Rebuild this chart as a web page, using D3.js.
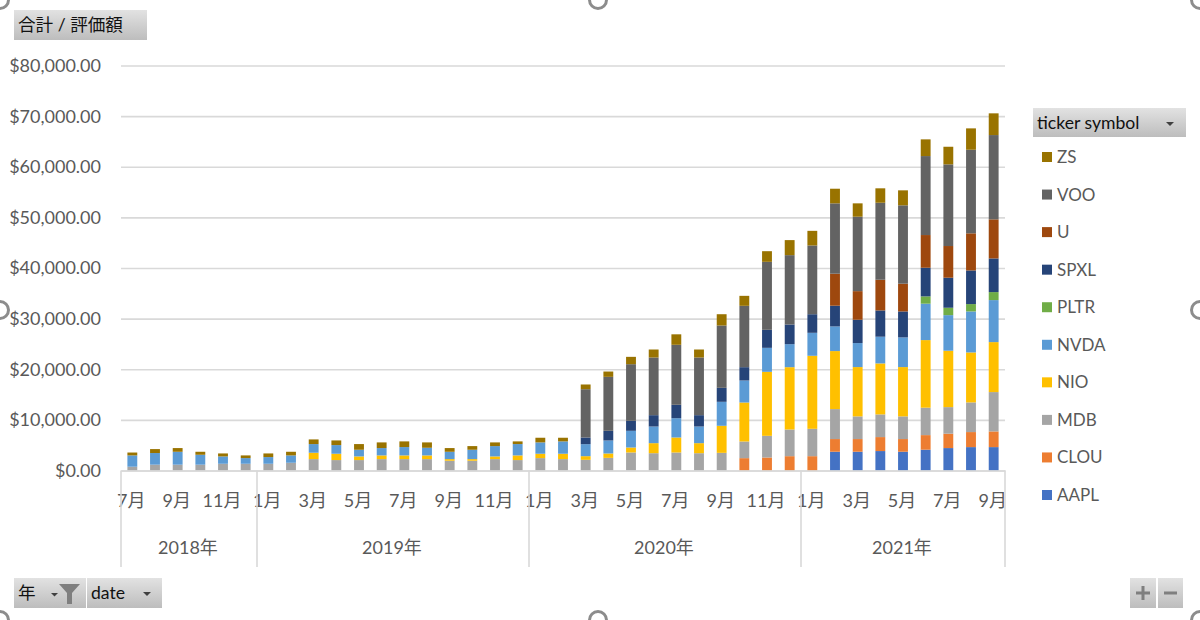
<!DOCTYPE html>
<html>
<head>
<meta charset="utf-8">
<script src="https://cdnjs.cloudflare.com/ajax/libs/d3/7.8.5/d3.min.js"></script>
<style>
  html, body { margin: 0; padding: 0; background: #fff; }
  svg { display: block; }
  text { font-family: Lato, "Noto Sans CJK JP", sans-serif; }
  .axis text { fill: #595959; }
  .btn text { fill: #111; }
</style>
</head>
<body>
<svg id="chart" width="1200" height="620"></svg>
<script>
const months = [
  "2018-07","2018-08","2018-09","2018-10","2018-11","2018-12",
  "2019-01","2019-02","2019-03","2019-04","2019-05","2019-06","2019-07","2019-08","2019-09","2019-10","2019-11","2019-12",
  "2020-01","2020-02","2020-03","2020-04","2020-05","2020-06","2020-07","2020-08","2020-09","2020-10","2020-11","2020-12",
  "2021-01","2021-02","2021-03","2021-04","2021-05","2021-06","2021-07","2021-08","2021-09"
];
const years = ["2018", "2019", "2020", "2021"];
const yTicks = [0, 10000, 20000, 30000, 40000, 50000, 60000, 70000, 80000];
const tickers = ["AAPL", "CLOU", "MDB", "NIO", "NVDA", "PLTR", "SPXL", "U", "VOO", "ZS"];
const colors = ["#4472C4", "#ED7D31", "#A5A5A5", "#FFC000", "#5B9BD5", "#70AD47", "#264478", "#9E480E", "#636363", "#997300"];

const AAPL = [0,0,0,0,0,0,0,0,0,0, 0,0,0,0,0,0,0,0,0,0, 0,0,0,0,0,0,0,0,0,0, 0,3710,3710,3840,3710,4110,4430,4620,4620];
const CLOU = [0,0,0,0,0,0,0,0,0,0, 0,0,0,0,0,0,0,0,0,0, 0,0,0,0,0,0,0,2440,2570,2830, 2830,2500,2500,2760,2500,2880,2840,2970,3100];
const MDB  = [750,1150,1150,1150,1330,1330,1330,1530,2250,2060, 2060,2250,2250,2250,1930,1930,2250,2060,2450,2250, 2110,2500,3560,3420,3560,3420,3490,3290,4280,5270, 5410,5920,4480,4480,4480,5420,5250,5860,7770];
const NIO  = [0,0,0,0,0,0,0,0,1260,1250, 720,730,730,730,320,320,530,920,860,1060, 720,860,980,1980,2960,1980,5340,7700,12640,12310, 14420,11460,9740,10070,9740,13350,11140,9870,9870];
const NVDA = [2230,2300,2550,1960,1450,1120,1320,1450,1710,1710, 1320,1450,1650,1510,1450,1850,2040,2240,2240,2440, 2370,2570,3300,3290,3810,3290,4740,4350,4740,4540, 4540,4870,4740,5280,5860,7190,7030,8100,8300];
const PLTR = [0,0,0,0,0,0,0,0,0,0, 0,0,0,0,0,0,0,0,0,0, 0,0,0,0,0,0,0,0,0,0, 0,0,0,0,0,1440,1460,1450,1580];
const SPXL = [0,0,0,0,0,0,0,0,0,0, 0,0,0,0,0,0,0,0,0,0, 1320,1910,1970,2240,2650,2240,2760,2630,3560,3890, 3670,4090,4610,5190,5130,5660,5930,6650,6650];
const U    = [0,0,0,0,0,0,0,0,0,0, 0,0,0,0,0,0,0,0,0,0, 0,0,0,0,0,0,0,0,0,0, 0,6320,5650,6060,5480,6460,6260,7330,7720];
const VOO  = [0,0,0,0,0,0,0,0,0,0, 0,0,0,0,0,0,0,0,0,0, 9540,10660,11190,11390,11850,11390,12310,12120,13430,13700, 13580,13900,14700,15210,15480,15600,16130,16510,16650];
const ZS   = [570,780,730,590,590,530,720,720,920,920, 1120,1120,1120,1060,730,720,730,530,920,720, 930,1050,1450,1580,2070,1580,2230,1970,2100,2970, 2890,2890,2640,2850,2960,3300,3480,4220,4290];

const seriesValues = { AAPL, CLOU, MDB, NIO, NVDA, PLTR, SPXL, U, VOO, ZS };
const rows = months.map((m, i) => {
  const r = { month: m };
  tickers.forEach(t => { r[t] = seriesValues[t][i]; });
  return r;
});

const svg = d3.select("#chart");

// Plot area
const plotLeft = 121, plotRight = 1005, plotTop = 65.5, plotBase = 470.5, plotBottom = 567;

const x = d3.scaleBand().domain(months).range([plotLeft, plotRight]).paddingInner(0.565).paddingOuter(0.2825);
const y = d3.scaleLinear().domain([0, 80000]).range([plotBase, plotTop]);
const color = d3.scaleOrdinal().domain(tickers).range(colors);

// Button gradient
const grad = svg.append("defs").append("linearGradient")
  .attr("id", "btnGrad").attr("x1", 0).attr("y1", 0).attr("x2", 0).attr("y2", 1);
grad.append("stop").attr("offset", "0%").attr("stop-color", "#e2e2e2");
grad.append("stop").attr("offset", "100%").attr("stop-color", "#bdbdbd");

// Y axis with gridlines
const fmt = d3.format("$,.2f");
const yAxis = svg.append("g").attr("class", "axis")
  .attr("transform", `translate(${plotLeft},0)`)
  .call(d3.axisLeft(y).tickValues(yTicks).tickFormat(fmt).tickSize(-(plotRight - plotLeft)).tickPadding(20));
yAxis.select(".domain").remove();
yAxis.selectAll("line").attr("stroke", "#d9d9d9").attr("stroke-width", 1.6);
yAxis.selectAll("text").attr("font-size", 18).attr("dy", "0.33em");

// Stacked bars
const stacked = d3.stack().keys(tickers)(rows);
svg.append("g").selectAll("g")
  .data(stacked)
  .join("g")
  .attr("fill", d => color(d.key))
  .selectAll("rect")
  .data(d => d)
  .join("rect")
  .attr("x", d => x(d.data.month))
  .attr("width", x.bandwidth())
  .attr("y", d => y(d[1]))
  .attr("height", d => y(d[0]) - y(d[1]));

// Month axis, every second label
const monthAxis = svg.append("g").attr("class", "axis")
  .attr("transform", `translate(0,${plotBase})`)
  .call(d3.axisBottom(x)
    .tickValues(months.filter((m, i) => i % 2 === 0))
    .tickFormat(m => (+m.slice(5)) + "月")
    .tickSize(0).tickPadding(24));
monthAxis.select(".domain").attr("stroke", "#d9d9d9").attr("stroke-width", 1.6);
monthAxis.selectAll("text").attr("font-size", 18).attr("dx", -1);

// Year level of the axis
const yearGroups = years.map(yr => {
  const ms = months.filter(m => m.startsWith(yr));
  const step = x.step();
  const x0 = x(ms[0]) + x.bandwidth() / 2 - step / 2;
  return { yr, x0, x1: x0 + ms.length * step };
});
const yearAxis = svg.append("g").attr("class", "axis");
yearAxis.selectAll("line")
  .data([yearGroups[0].x0].concat(yearGroups.map(d => d.x1)))
  .join("line")
  .attr("x1", d => d).attr("x2", d => d)
  .attr("y1", plotBase).attr("y2", plotBottom)
  .attr("stroke", "#d9d9d9").attr("stroke-width", 1.6);
yearAxis.selectAll("text")
  .data(yearGroups)
  .join("text")
  .attr("x", d => (d.x0 + d.x1) / 2 - 1)
  .attr("y", 554)
  .attr("text-anchor", "middle")
  .attr("font-size", 18)
  .text(d => d.yr + "年");

// Legend, last ticker on top
const legendY = d3.scalePoint().domain(tickers.slice().reverse()).range([157, 495]);
const legend = svg.append("g").attr("class", "axis").selectAll("g")
  .data(tickers)
  .join("g")
  .attr("transform", d => `translate(1042,${legendY(d)})`);
legend.append("rect").attr("y", -5).attr("width", 10).attr("height", 10).attr("fill", d => color(d));
legend.append("text").attr("x", 15).attr("dy", "0.35em").attr("font-size", 17).attr("fill", "#595959").text(d => d);

// Pivot field buttons
function button(bx, by, w, h, label, arrow) {
  const g = svg.append("g").attr("class", "btn");
  g.append("rect").attr("x", bx).attr("y", by).attr("width", w).attr("height", h).attr("fill", "url(#btnGrad)");
  if (label) {
    g.append("text").attr("x", bx + 4).attr("y", by + h / 2).attr("dy", "0.36em").attr("font-size", 17.6).text(label);
  }
  if (arrow) {
    g.append("path").attr("d", `M${arrow - 4},${by + 14}h8l-4,4z`).attr("fill", "#404040");
  }
  return g;
}
button(14, 10, 133, 30, "合計 / 評価額");
button(1033, 108, 153, 29, "ticker symbol", 1170);
const yearBtn = button(14, 578, 72, 30, "年");
yearBtn.append("path").attr("d", "M51,593h7l-3.5,3.5z").attr("fill", "#404040");
yearBtn.append("path").attr("d", "M59,584h21l-8,9v11h-5v-11z").attr("fill", "#7f7f7f");
button(87, 578, 75, 30, "date", 147);

const plus = button(1130, 578, 26, 30);
plus.append("path").attr("d", "M1136,593h14M1143,586v14").attr("stroke", "#7f7f7f").attr("stroke-width", 3);
const minus = button(1158, 578, 25, 30);
minus.append("path").attr("d", "M1164,593h13").attr("stroke", "#7f7f7f").attr("stroke-width", 3);

// Selection handles on the chart frame
const handles = [[0, 0], [598, 0], [1200, 0], [0, 310], [1200, 310], [0, 620], [598, 620], [1200, 620]];
svg.append("g").selectAll("circle")
  .data(handles)
  .join("circle")
  .attr("cx", d => d[0]).attr("cy", d => d[1])
  .attr("r", 8.5)
  .attr("fill", "#fff").attr("stroke", "#8c8c8c").attr("stroke-width", 3);
</script>
</body>
</html>
